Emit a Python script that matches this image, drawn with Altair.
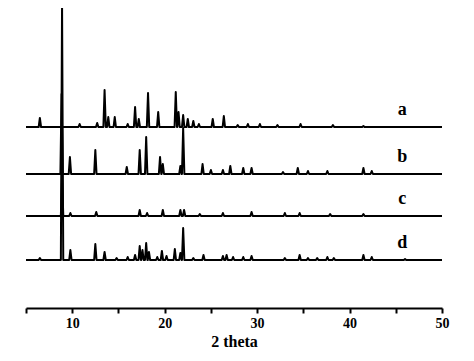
import altair as alt
import pandas as pd

# Peak positions (2 theta) and heights (arbitrary intensity) for each pattern
a_pos = [6.5, 10.8, 12.7, 13.5, 13.9, 14.6, 16.0, 16.8, 17.2, 18.2, 19.3, 21.2, 21.5, 22.0, 22.5, 23.1, 23.7, 25.2, 26.4, 27.9, 29.0, 30.3, 32.2, 34.7, 38.2, 41.5]
a_h   = [9,   3,    4,    37,   10,   10,   3,    20,   8,    34,   15,   35,   15,   12,   8,    6,    3,    8,    11,   2,    3,    3,    2,    3,    2,    1]

b_pos = [8.85, 9.75, 12.5, 15.9, 17.3, 18.0, 19.5, 19.8, 21.7, 22.0, 24.1, 25.0, 26.3, 27.1, 28.5, 29.4, 32.8, 34.4, 35.5, 37.6, 41.5, 42.4]
b_h   = [80,   17,   24,   7,    24,   37,   17,   10,   8,    46,   10,   4,    4,    8,    6,    6,    2,    6,    3,    3,    6,    3]

c_pos = [8.9, 9.8, 12.6, 17.3, 18.1, 19.8, 21.7, 22.1, 23.8, 26.3, 29.4, 33.0, 34.6, 37.9, 41.5]
c_h   = [42,  3,   4,    6,    3,    6,    6,    6,    2,    3,    4,    3,    3,    2,    2]

d_pos = [6.5, 8.9, 9.8, 12.5, 13.5, 14.8, 16.0, 16.8, 17.3, 17.6, 18.0, 18.3, 19.2, 19.7, 20.2, 21.1, 21.7, 22.0, 23.1, 24.2, 26.3, 26.7, 27.4, 28.5, 29.4, 33.0, 34.6, 35.5, 36.5, 37.6, 38.3, 41.5, 42.4, 46.0]
d_h   = [2,   255, 10,  16,   8,    2,    3,    5,    14,   10,   17,   8,    3,    9,    4,    11,   7,    32,   2,    5,    4,    5,    3,    3,    4,    2,    5,    2,    2,    3,    2,    5,    3,    1]

labels = ["a", "b", "c", "d"]
offsets = [181, 134, 92, 48]
x_start, x_end = 5, 50
half_width = 0.13

rows = []
for lab, off, pos, hs in zip(labels, offsets, [a_pos, b_pos, c_pos, d_pos], [a_h, b_h, c_h, d_h]):
    pts = [(x_start, off)]
    for p, h in zip(pos, hs):
        pts.append((p - half_width, off))
        pts.append((p, off + h))
        pts.append((p + half_width, off))
    pts.append((x_end, off))
    for i, (x, y) in enumerate(pts):
        rows.append({"series": lab, "x": x, "y": y, "order": i})
df = pd.DataFrame(rows)

lab_df = pd.DataFrame({"series": labels, "x": [45.7] * 4, "y": [o + 17 for o in offsets]})

xscale = alt.Scale(domain=[5, 50], nice=False, zero=False)
yscale = alt.Scale(domain=[0, 300], nice=False, zero=False)

lines = alt.Chart(df).mark_line(color="black", strokeWidth=2, clip=False, strokeJoin="round").encode(
    x=alt.X("x:Q", scale=xscale, title="2 theta",
            axis=alt.Axis(values=[5, 10, 15, 20, 25, 30, 35, 40, 45, 50],
                          labelExpr="datum.value % 10 == 0 ? datum.label : ''",
                          grid=False)),
    y=alt.Y("y:Q", scale=yscale, axis=None),
    detail="series:N",
    order="order:Q",
)

texts = alt.Chart(lab_df).mark_text(font="Liberation Serif", fontWeight="bold", fontSize=18, color="black").encode(
    x=alt.X("x:Q", scale=xscale),
    y=alt.Y("y:Q", scale=yscale),
    text="series:N",
)

chart = (lines + texts).properties(
    width=416, height=300,
    autosize=alt.AutoSizeParams(type="none"),
    padding={"left": 18, "top": 0, "right": 18, "bottom": 44},
).configure_view(stroke=None).configure_axis(
    domainColor="black", domainWidth=2, tickColor="black", tickWidth=2, tickSize=5,
    labelFont="Liberation Serif", labelFontWeight="bold", labelFontSize=14, labelColor="black",
    labelPadding=3, labelFlush=False,
    titleFont="Liberation Serif", titleFontWeight="bold", titleFontSize=16, titleColor="black",
    titlePadding=3,
)

chart.save("out.html", embed_options={"renderer": "svg", "actions": False})
